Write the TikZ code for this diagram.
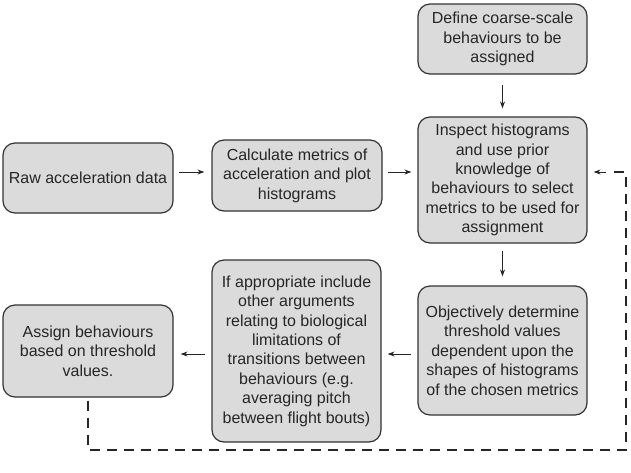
\documentclass[tikz,border=0pt]{standalone}
\usepackage{fontspec}
\setmainfont{Liberation Sans}
\usetikzlibrary{arrows.meta}
\begin{document}
\begin{tikzpicture}[x=1pt,y=-1pt,
  box/.style={draw=black!80, fill=black!14, line width=1.2pt, rounded corners=12pt,
    align=center, inner sep=0pt, font=\fontsize{16}{19.4}\selectfont, text=black!85},
  arr/.style={-{Stealth[length=7pt,width=5pt]}, line width=0.9pt, draw=black!85},
  dsh/.style={line width=1.3pt, draw=black!85, dash pattern=on 10pt off 7pt}]
\useasboundingbox (0,0) rectangle (631,472);
\node[box, minimum width=170pt, minimum height=70pt] (raw) at (88,178) {Raw acceleration data};
\node[box, minimum width=170pt, minimum height=71pt] (calc) at (297,175.5) {Calculate metrics of\\acceleration and plot\\histograms};
\node[box, minimum width=169pt, minimum height=70pt] (def) at (502.5,39) {Define coarse-scale\\behaviours to be\\assigned};
\node[box, minimum width=169pt, minimum height=126pt] (insp) at (502.5,180) {Inspect histograms\\and use prior\\knowledge of\\behaviours to select\\metrics to be used for\\assignment};
\node[box, minimum width=169pt, minimum height=129pt] (obj) at (502.5,350.5) {Objectively determine\\threshold values\\dependent upon the\\shapes of histograms\\of the chosen metrics};
\node[box, minimum width=169pt, minimum height=182pt] (inc) at (296.5,351) {If appropriate include\\other arguments\\relating to biological\\limitations of\\transitions between\\behaviours (e.g.\\averaging pitch\\between flight bouts)};
\node[box, minimum width=170pt, minimum height=92pt] (asg) at (88,351) {Assign behaviours\\based on threshold\\values.};
\draw[arr] ([xshift=5pt,yshift=6pt]raw.east) -- ([xshift=-7pt,yshift=6pt]raw.east -| calc.west);
\draw[arr] ([xshift=5pt,yshift=3.5pt]calc.east) -- ([xshift=-6pt,yshift=3.5pt]calc.east -| insp.west);
\draw[arr] ([yshift=-10pt]def.south) -- ([yshift=8pt]insp.north);
\draw[arr] ([yshift=-7pt]insp.south) -- ([yshift=9pt]obj.north);
\draw[arr] ([xshift=-6pt,yshift=-3.5pt]obj.west) -- ([xshift=6pt,yshift=-3.5pt]obj.west -| inc.east);
\draw[arr] ([xshift=-6pt,yshift=-3pt]inc.west) -- ([xshift=7pt,yshift=-3pt]inc.west -| asg.east);
\coordinate (c1) at (88,450);
\coordinate (c2) at (626,450);
\coordinate (c3) at (626,172);
\coordinate (c4) at (608,172);
\draw[dsh] ([yshift=-3pt]asg.south) -- (c1) -- (c2) -- (c3) -- (c4);
\draw[arr] ([xshift=-2pt]c4) -- ([xshift=6pt,yshift=8pt]insp.east);
\end{tikzpicture}
\end{document}
